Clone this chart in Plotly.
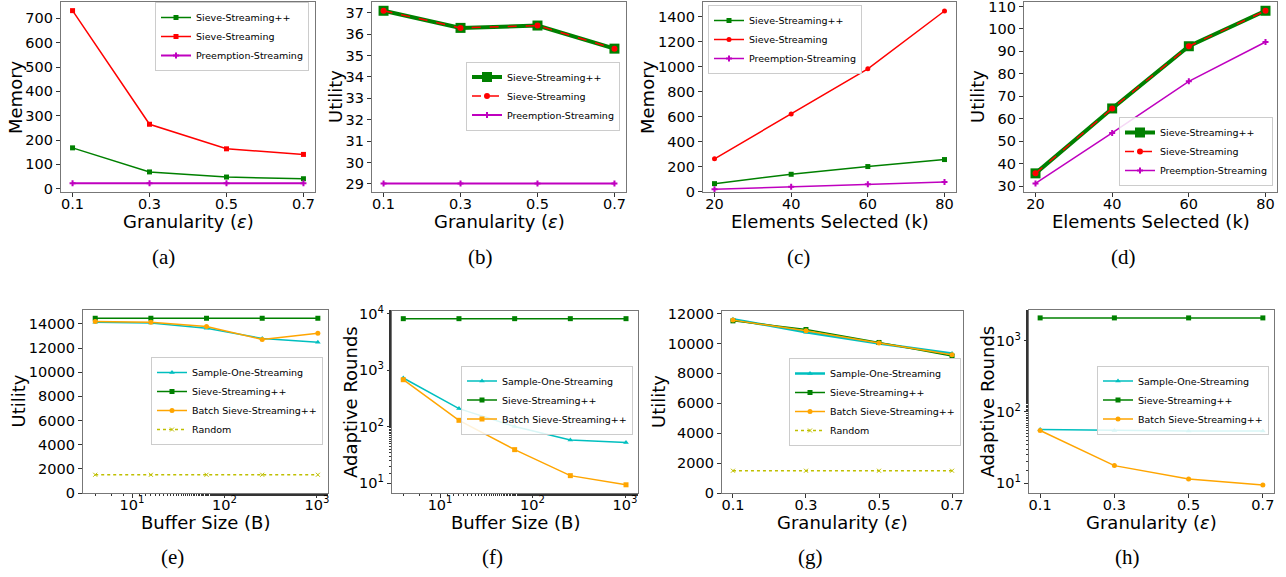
import plotly.graph_objects as go

W, H = 1286, 577

# ---------------- data ----------------
eps = [0.1, 0.3, 0.5, 0.7]
k_vals = [20, 40, 60, 80]
buffer_sizes = [4, 16, 64, 256, 1024]

a_sspp = [168, 69, 48, 41]
a_ss = [732, 265, 164, 141]
a_pre = [22, 22, 22, 22]

b_sspp = [37.09, 36.29, 36.40, 35.32]
b_ss = [37.09, 36.29, 36.40, 35.32]
b_pre = [29.02, 29.02, 29.02, 29.02]

c_sspp = [64, 139, 201, 257]
c_ss = [263, 622, 984, 1448]
c_pre = [19, 40, 59, 78]

d_sspp = [35.7, 64.6, 92.3, 108.1]
d_ss = [35.7, 64.6, 92.3, 108.1]
d_pre = [31.2, 53.7, 76.7, 94.2]

e_sample = [14137, 14082, 13643, 12792, 12490]
e_sspp = [14466, 14466, 14466, 14466, 14466]
e_batch = [14192, 14137, 13780, 12710, 13231]
e_random = [1510, 1510, 1510, 1510, 1510]

f_sample = [724, 208, 100, 58, 52]
f_sspp = [8150, 8150, 8150, 8150, 8150]
f_batch = [676, 129, 39, 13.5, 9.3]

g_sample = [11622, 10756, 10000, 9333]
g_sspp = [11511, 10933, 10067, 9156]
g_batch = [11560, 10850, 10030, 9250]
g_random = [1489, 1489, 1489, 1489]

h_sample = [57, 55, 54, 54]
h_sspp = [2085, 2085, 2085, 2085]
h_batch = [55, 17.7, 11.5, 9.5]

eps_ticks = [0.1, 0.3, 0.5, 0.7]
eps_ticktext = ["0.1", "0.3", "0.5", "0.7"]
k_ticks = [20, 40, 60, 80]
pow_ticks = [10, 100, 1000, 10000]
pow_ticktext = ["10<sup>1</sup>", "10<sup>2</sup>", "10<sup>3</sup>", "10<sup>4</sup>"]

captions = ["(a)", "(b)", "(c)", "(d)", "(e)", "(f)", "(g)", "(h)"]
x_titles = ["Granularity (<i>ε</i>)", "Granularity (<i>ε</i>)", "Elements Selected (k)", "Elements Selected (k)",
            "Buffer Size (B)", "Buffer Size (B)", "Granularity (<i>ε</i>)", "Granularity (<i>ε</i>)"]
y_titles = ["Memory", "Utility", "Memory", "Utility", "Utility", "Adaptive Rounds", "Utility", "Adaptive Rounds"]

# ---------------- styles ----------------
GREEN = "#008000"
RED = "#ff0000"
MAG = "#bf00bf"
CYAN = "#00bfbf"
ORANGE = "#ffa500"
YEL = "#bfbf00"
FONT = "DejaVu Sans"

fig = go.Figure()


def px_x(v):
    return v / W


def px_y(v):
    return 1 - v / H


# panel geometry in pixels: (x0, x1, ytop, ybottom)
boxes = [
    (61, 315, 2, 192), (372, 626, 2, 192), (703, 956, 2, 192), (1024, 1277, 2, 192),
    (83, 328, 310, 493), (392, 638, 311, 493), (722, 963, 311, 493), (1029, 1274, 310, 493),
]
ytitle_x = [15, 335, 647, 977, 18, 350, 658, 987]
caption_x = [163, 480, 798, 1123, 172, 492, 810, 1127]


def add(i, x, y, name, color, symbol, width=1.5, size=5, dash=None, showlegend=True):
    ax = "" if i == 0 else str(i + 1)
    fig.add_trace(go.Scatter(
        x=x, y=y, name=name, mode="lines+markers",
        line=dict(color=color, width=width, dash=dash),
        marker=dict(color=color, symbol=symbol, size=size, line=dict(width=0)),
        xaxis="x" + ax, yaxis="y" + ax,
        legend="legend" + ax, showlegend=showlegend,
    ))


# (a)
add(0, eps, a_sspp, "Sieve-Streaming++", GREEN, "square")
add(0, eps, a_ss, "Sieve-Streaming", RED, "square")
add(0, eps, a_pre, "Preemption-Streaming", MAG, "cross", width=2)
# (b)
add(1, eps, b_sspp, "Sieve-Streaming++", GREEN, "square", width=4, size=10)
add(1, eps, b_ss, "Sieve-Streaming", RED, "circle", width=1.5, size=6, dash="dash")
add(1, eps, b_pre, "Preemption-Streaming", MAG, "cross", width=2)
# (c)
add(2, k_vals, c_sspp, "Sieve-Streaming++", GREEN, "square")
add(2, k_vals, c_ss, "Sieve-Streaming", RED, "circle")
add(2, k_vals, c_pre, "Preemption-Streaming", MAG, "cross")
# (d)
add(3, k_vals, d_sspp, "Sieve-Streaming++", GREEN, "square", width=4, size=10)
add(3, k_vals, d_ss, "Sieve-Streaming", RED, "circle", width=1.5, size=6, dash="dash")
add(3, k_vals, d_pre, "Preemption-Streaming", MAG, "cross")
# (e)
add(4, buffer_sizes, e_sample, "Sample-One-Streaming", CYAN, "triangle-up")
add(4, buffer_sizes, e_sspp, "Sieve-Streaming++", GREEN, "square")
add(4, buffer_sizes, e_batch, "Batch Sieve-Streaming++", ORANGE, "circle")
add(4, buffer_sizes, e_random, "Random", YEL, "x-thin-open", dash="dot", size=4)
# (f)
add(5, buffer_sizes, f_sample, "Sample-One-Streaming", CYAN, "triangle-up")
add(5, buffer_sizes, f_sspp, "Sieve-Streaming++", GREEN, "square")
add(5, buffer_sizes, f_batch, "Batch Sieve-Streaming++", ORANGE, "square")
# (g)
add(6, eps, g_sample, "Sample-One-Streaming", CYAN, "triangle-up", width=2.5)
add(6, eps, g_sspp, "Sieve-Streaming++", GREEN, "square")
add(6, eps, g_batch, "Batch Sieve-Streaming++", ORANGE, "circle")
add(6, eps, g_random, "Random", YEL, "x-thin-open", dash="dot", size=4)
# (h)
add(7, eps, h_sample, "Sample-One-Streaming", CYAN, "triangle-up")
add(7, eps, h_sspp, "Sieve-Streaming++", GREEN, "square")
add(7, eps, h_batch, "Batch Sieve-Streaming++", ORANGE, "circle")

# ---------------- axes ----------------
axis_common = dict(
    showline=True, mirror=True, linecolor="#777", linewidth=1.2,
    ticks="outside", ticklen=4, tickwidth=1, tickcolor="#333",
    showgrid=False, zeroline=False, automargin=False, ticklabeloverflow="allow",
    tickfont=dict(family=FONT, size=14.5, color="black"),
)

minor_log = dict(ticks="outside", ticklen=2, tickcolor="#333")
x_specs = [
    dict(range=[0.07, 0.73], tickvals=eps_ticks, ticktext=eps_ticktext),
    dict(range=[0.07, 0.73], tickvals=eps_ticks, ticktext=eps_ticktext),
    dict(range=[17, 83], tickvals=k_ticks),
    dict(range=[17, 83], tickvals=k_ticks),
    dict(type="log", range=[0.47, 3.12], tickvals=pow_ticks[:3], ticktext=pow_ticktext[:3], minor=minor_log),
    dict(type="log", range=[0.48, 3.14], tickvals=pow_ticks[:3], ticktext=pow_ticktext[:3], minor=minor_log),
    dict(range=[0.07, 0.73], tickvals=eps_ticks, ticktext=eps_ticktext),
    dict(range=[0.07, 0.73], tickvals=eps_ticks, ticktext=eps_ticktext),
]
y_specs = [
    dict(range=[-13.5, 767.5], dtick=100, tickformat="d"),
    dict(range=[28.62, 37.5], dtick=1, tickformat="d"),
    dict(range=[-3, 1520], dtick=200, tickformat="d"),
    dict(range=[27.4, 112], dtick=10, tickformat="d"),
    dict(range=[0, 15150], dtick=2000, tickformat="d"),
    dict(type="log", range=[0.823, 4.047], tickvals=pow_ticks, ticktext=pow_ticktext, minor=minor_log),
    dict(range=[0, 12170], dtick=2000, tickformat="d"),
    dict(type="log", range=[0.864, 3.43], tickvals=pow_ticks[:3], ticktext=pow_ticktext[:3], minor=minor_log),
]

layout = dict(
    width=W, height=H, margin=dict(l=0, r=0, t=0, b=0, pad=0, autoexpand=False),
    paper_bgcolor="white", plot_bgcolor="white",
    font=dict(family=FONT, color="black"),
)

annotations = []
for i, (x0, x1, yt, yb) in enumerate(boxes):
    ax = "" if i == 0 else str(i + 1)
    xa = dict(axis_common)
    xa.update(x_specs[i])
    xa["domain"] = [px_x(x0), px_x(x1)]
    xa["anchor"] = "y" + ax
    xa["ticklabelstandoff"] = -6
    ya = dict(axis_common)
    ya.update(y_specs[i])
    ya["domain"] = [px_y(yb), px_y(yt)]
    ya["anchor"] = "x" + ax
    layout["xaxis" + ax] = xa
    layout["yaxis" + ax] = ya

    row_top = i < 4
    # x title
    annotations.append(dict(
        text=x_titles[i], x=px_x((x0 + x1) / 2), y=px_y(221 if row_top else 522),
        xref="paper", yref="paper", showarrow=False, xanchor="center", yanchor="middle",
        font=dict(family=FONT, size=18, color="black")))
    # y title
    annotations.append(dict(
        text=y_titles[i], x=px_x(ytitle_x[i]), y=px_y((yt + yb) / 2),
        xref="paper", yref="paper", showarrow=False, xanchor="center", yanchor="middle",
        textangle=-90, font=dict(family=FONT, size=18, color="black")))
    # caption
    annotations.append(dict(
        text=captions[i], x=px_x(caption_x[i]), y=px_y(257 if row_top else 557),
        xref="paper", yref="paper", showarrow=False, xanchor="center", yanchor="middle",
        font=dict(family="Liberation Serif", size=21, color="black")))

layout["annotations"] = annotations

# legends: (x px, y px, xanchor, yanchor)
legend_pos = [
    (309, 2, "right", "top"), (620, 96, "right", "middle"), (708, 5, "left", "top"),
    (1273, 186, "right", "bottom"), (323, 401, "right", "middle"), (633, 400, "right", "middle"),
    (961, 402, "right", "middle"), (1269, 400, "right", "middle"),
]
for i, (lx, ly, xa_, ya_) in enumerate(legend_pos):
    key = "legend" if i == 0 else "legend" + str(i + 1)
    layout[key] = dict(
        x=px_x(lx), y=px_y(ly), xanchor=xa_, yanchor=ya_, xref="paper", yref="paper",
        bgcolor="rgba(255,255,255,0.85)", bordercolor="#cccccc", borderwidth=1,
        font=dict(family=FONT, size=9.5, color="black"),
        tracegroupgap=0, itemwidth=30,
    )

fig.update_layout(**layout)
fig.write_html("out.html", config={"displayModeBar": False},
               post_script="document.body.style.margin='0px';")
